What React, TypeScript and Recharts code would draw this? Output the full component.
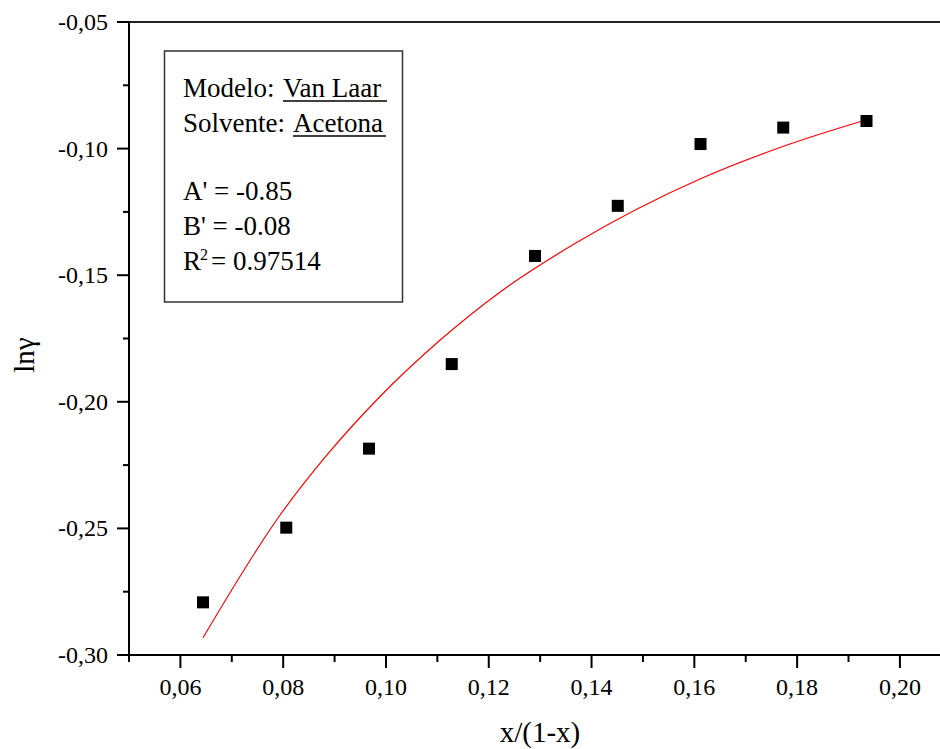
import { ComposedChart, Line, Scatter, XAxis, YAxis, ReferenceLine } from 'recharts';

// measured points, ln(gamma) vs x/(1-x)
const xMeasured = [0.0644, 0.0806, 0.0967, 0.1128, 0.129, 0.1451, 0.1612, 0.1773, 0.1935];
const lnGamma = [-0.2792, -0.2497, -0.2185, -0.1851, -0.1424, -0.1226, -0.0982, -0.0917, -0.0891];

// Van Laar fit curve
const xFit = [0.0644, 0.0793, 0.0884, 0.0988, 0.1105, 0.1221, 0.1371, 0.1611, 0.1786, 0.1935];
const lnGammaFit = [-0.2932, -0.2450, -0.2213, -0.1980, -0.1757, -0.1568, -0.1371, -0.1120, -0.0982, -0.0886];

const xTicks = [0.05, 0.06, 0.07, 0.08, 0.09, 0.1, 0.11, 0.12, 0.13, 0.14, 0.15, 0.16, 0.17, 0.18, 0.19, 0.2];
const yTicks = [-0.3, -0.275, -0.25, -0.225, -0.2, -0.175, -0.15, -0.125, -0.1, -0.075, -0.05];

const points = xMeasured.map((x, i) => ({ x, y: lnGamma[i] }));
const fit = xFit.map((x, i) => ({ x, y: lnGammaFit[i] }));

const FONT = 'Liberation Serif, Times New Roman, DejaVu Serif, serif';
const fmt = (v: number) => v.toFixed(2).replace('.', ',');

const XTick = ({ x, y, payload }: any) => {
  const v = payload.value;
  const major = Math.round(v * 100) % 2 === 0;
  return (
    <g>
      <line x1={x} x2={x} y1={y} y2={y + (major ? 13 : 7)} stroke="#000" strokeWidth={2} />
      {major && (
        <text x={x} y={y + 40} textAnchor="middle" style={{ fontSize: 24, fontFamily: FONT }} fill="#000">
          {fmt(v)}
        </text>
      )}
    </g>
  );
};

const YTick = ({ x, y, payload }: any) => {
  const v = payload.value;
  const major = Math.round(v * 1000) % 50 === 0;
  return (
    <g>
      <line x1={x} x2={x - (major ? 12 : 6)} y1={y} y2={y} stroke="#000" strokeWidth={2} />
      {major && (
        <text x={x - 21} y={y + 8} textAnchor="end" style={{ fontSize: 24, fontFamily: FONT }} fill="#000">
          {fmt(v)}
        </text>
      )}
    </g>
  );
};

const Square = (props: any) => {
  const { cx, cy } = props;
  return <rect x={cx - 6} y={cy - 6} width={12} height={12} fill="#000" />;
};

export default function App() {
  return (
    <div style={{ position: 'absolute', left: 0, top: 0, width: 940, height: 749, background: '#fff', fontFamily: FONT }}>
      <ComposedChart width={940} height={749} margin={{ top: 22, right: 0, bottom: 0, left: 0 }}>
        <XAxis
          dataKey="x"
          type="number"
          domain={[0.05, 0.2078]}
          allowDataOverflow
          ticks={xTicks}
          interval={0}
          tick={<XTick />}
          tickLine={false}
          tickSize={0}
          tickMargin={0}
          height={94}
          axisLine={{ stroke: '#000', strokeWidth: 2 }}
        />
        <YAxis
          dataKey="y"
          type="number"
          domain={[-0.3, -0.05]}
          allowDataOverflow
          ticks={yTicks}
          interval={0}
          tick={<YTick />}
          tickLine={false}
          tickSize={0}
          tickMargin={0}
          width={129}
          axisLine={{ stroke: '#000', strokeWidth: 2 }}
        />
        <ReferenceLine y={-0.05} stroke="#222" strokeWidth={2} />
        <Line
          data={fit}
          dataKey="y"
          type="monotone"
          stroke="#ff0000"
          strokeWidth={1.2}
          dot={false}
          isAnimationActive={false}
        />
        <Scatter data={points} dataKey="y" shape={<Square />} isAnimationActive={false} />
      </ComposedChart>
      <svg
        width={940}
        height={749}
        style={{ position: 'absolute', left: 0, top: 0, pointerEvents: 'none', fontFamily: FONT }}
      >
        <rect x={164.5} y={51} width={238} height={251} fill="none" stroke="#333" strokeWidth={1.5} />
        <text x={183} y={97} style={{ fontSize: 27 }}>Modelo: </text>
        <text x={283} y={97} style={{ fontSize: 27 }}>Van Laar</text>
        <line x1={283} x2={387} y1={101} y2={101} stroke="#000" strokeWidth={1.5} />
        <text x={183} y={132} style={{ fontSize: 27 }}>Solvente: </text>
        <text x={293} y={132} style={{ fontSize: 27 }}>Acetona</text>
        <line x1={293} x2={386} y1={136} y2={136} stroke="#000" strokeWidth={1.5} />
        <text x={183} y={200} style={{ fontSize: 27 }}>A' = -0.85</text>
        <text x={183} y={235} style={{ fontSize: 27 }}>B' = -0.08</text>
        <text x={183} y={270} style={{ fontSize: 27 }}>R</text>
        <text x={200} y={260} style={{ fontSize: 16 }}>2</text>
        <text x={211} y={270} style={{ fontSize: 27 }}>= 0.97514</text>
        <text x={540} y={742} style={{ fontSize: 29 }} textAnchor="middle">x/(1-x)</text>
        <text x={24} y={355} style={{ fontSize: 29 }} textAnchor="middle" transform="rotate(-90 24 355)" dy={10}>lnγ</text>
      </svg>
    </div>
  );
}
